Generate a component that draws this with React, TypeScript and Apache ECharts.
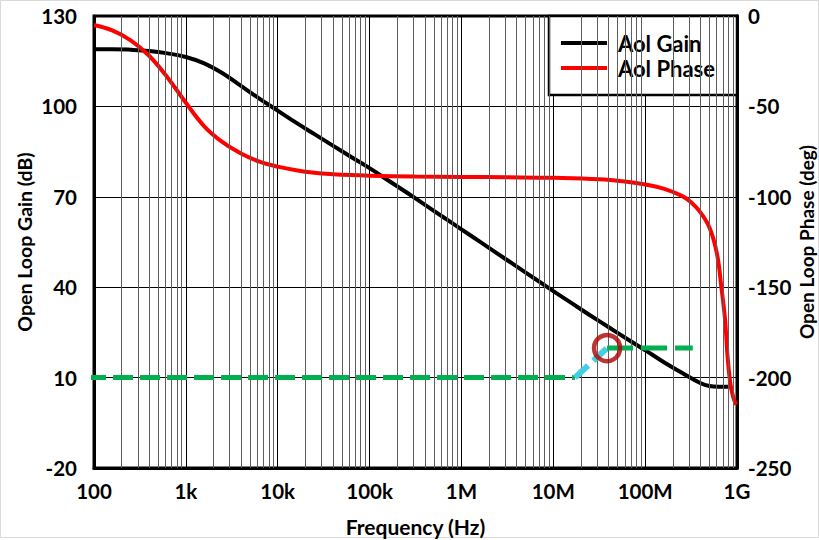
import React, { useEffect, useRef } from "react";
import * as echarts from "echarts";

// ---- data ----
const gainFreq = [100, 158, 251, 398, 631, 1000, 1585, 2512, 3981, 6310, 1e4, 15850, 25120, 39810, 63100, 1e5, 158500, 251200, 398100, 631000, 1e6, 1.585e6, 2.512e6, 3.981e6, 6.31e6, 1e7, 1.585e7, 2.512e7, 3.981e7, 6.31e7, 1e8, 1.585e8, 2.512e8, 3.981e8, 5.012e8, 6.31e8, 8.5e8];
const gainDb = [119, 119, 118.8, 118.4, 117.6, 116.4, 114.3, 111, 106.8, 102.6, 98.6, 94.6, 90.8, 87, 83.2, 79.5, 75.5, 71.5, 67.4, 63.3, 59.2, 55.1, 51.0, 46.9, 42.8, 38.7, 34.7, 30.7, 26.8, 22.9, 19.1, 15.2, 11.6, 8.2, 7.2, 7.0, 7.0];

const phaseFreq = [100, 158, 251, 398, 631, 1000, 1585, 2512, 3981, 6310, 1e4, 15850, 25120, 39810, 63100, 1e5, 316200, 1e6, 3.162e6, 1e7, 3.162e7, 6.31e7, 1e8, 1.585e8, 2.512e8, 3.162e8, 3.981e8, 5.012e8, 6.026e8, 6.761e8, 7.413e8, 7.943e8, 8.511e8, 9.12e8, 9.77e8];
const phaseDeg = [-5, -8, -13.5, -22, -34, -48, -61, -69.8, -76, -80.5, -83.3, -85.3, -86.7, -87.5, -88, -88.3, -88.8, -89, -89.2, -89.5, -90.3, -91.7, -93.2, -95.5, -99.5, -103, -108.5, -117, -131, -150, -168, -190, -204, -211, -215];

const greenLowFreq = [82, 1.72e7];
const greenLowDb = [10, 10];
const cyanFreq = [1.72e7, 3.85e7];
const cyanDb = [10, 19.8];
const greenHighFreq = [3.85e7, 3.3e8];
const greenHighDb = [19.8, 19.8];
const markerFreq = [3.85e7];
const markerDb = [19.8];

const xTickLabels = ["100", "1k", "10k", "100k", "1M", "10M", "100M", "1G"];
const decadeStarts = [100, 1e3, 1e4, 1e5, 1e6, 1e7, 1e8];
const minorMultipliers = [2, 3, 4, 5, 6, 7, 8, 9];

const zip = (xs: number[], ys: number[]) => xs.map((x, i) => [x, ys[i]]);

const FONT = "Lato";

export default function App() {
  const ref = useRef<HTMLDivElement>(null);
  useEffect(() => {
    if (!ref.current) return;
    const chart = echarts.init(ref.current, null, { renderer: "svg" });
    const minorLines: any[] = [];
    decadeStarts.forEach((d) => minorMultipliers.forEach((m) => minorLines.push({ xAxis: d * m })));

    chart.setOption({
      animation: false,
      backgroundColor: "#fff",
      textStyle: { fontFamily: FONT },
      graphic: [
        {
          type: "rect",
          shape: { x: 0.5, y: 0.5, width: 818, height: 537 },
          style: { fill: "none", stroke: "#d9d9d9", lineWidth: 1 },
          silent: true,
          z: -10,
        },
      ],
      grid: {
        left: 94,
        right: 82,
        top: 16,
        bottom: 72,
        show: true,
        borderColor: "#000",
        borderWidth: 3,
        containLabel: false,
        outerBoundsMode: "none",
      },
      legend: {
        data: ["Aol Gain", "Aol Phase"],
        orient: "vertical",
        right: 82,
        top: 16,
        padding: [16, 22, 16, 12],
        itemGap: 3,
        itemWidth: 46,
        itemHeight: 4,
        icon: "rect",
        backgroundColor: "#fff",
        borderColor: "#000",
        borderWidth: 2.5,
        borderRadius: 0,
        textStyle: {
          fontFamily: FONT,
          fontWeight: "bold",
          fontSize: 22,
          color: "#000",
          padding: [0, 0, 0, 6],
        },
      },
      xAxis: {
        type: "log",
        logBase: 10,
        min: 100,
        max: 1e9,
        splitNumber: 7,
        name: "Frequency (Hz)",
        nameLocation: "middle",
        nameGap: 48,
        nameTextStyle: { fontFamily: FONT, fontWeight: "bold", fontSize: 21, color: "#000" },
        axisLine: { show: true, onZero: false, lineStyle: { color: "#000", width: 3 } },
        axisTick: { show: false },
        axisLabel: {
          fontFamily: FONT,
          fontWeight: "bold",
          fontSize: 20.5,
          color: "#000",
          margin: 12,
          formatter: (v: number) => xTickLabels[Math.round(Math.log10(v)) - 2] ?? "",
        },
        splitLine: { show: true, lineStyle: { color: "#000", width: 1 } },
      },
      yAxis: [
        {
          type: "value",
          min: -20,
          max: 130,
          interval: 30,
          name: "Open Loop Gain (dB)",
          nameLocation: "middle",
          nameGap: 60,
          nameMoveOverlap: false,
          nameTextStyle: { fontFamily: FONT, fontWeight: "bold", fontSize: 19.5, color: "#000" },
          axisLine: { show: true, onZero: false, lineStyle: { color: "#000", width: 3 } },
          axisTick: { show: false },
          axisLabel: { fontFamily: FONT, fontWeight: "bold", fontSize: 20.5, color: "#000", margin: 17 },
          splitLine: { show: true, lineStyle: { color: "#000", width: 1 } },
        },
        {
          type: "value",
          min: -250,
          max: 0,
          interval: 50,
          position: "right",
          name: "Open Loop Phase (deg)",
          nameLocation: "middle",
          nameGap: 60,
          nameMoveOverlap: false,
          nameRotate: 90,
          nameTextStyle: { fontFamily: FONT, fontWeight: "bold", fontSize: 19, color: "#000" },
          axisLine: { show: true, onZero: false, lineStyle: { color: "#000", width: 3 } },
          axisTick: { show: false },
          axisLabel: { fontFamily: FONT, fontWeight: "bold", fontSize: 20.5, color: "#000", margin: 11 },
          splitLine: { show: false },
        },
      ],
      series: [
        {
          name: "minor-grid",
          type: "line",
          data: [],
          silent: true,
          z: 1,
          markLine: {
            silent: true,
            symbol: ["none", "none"],
            label: { show: false },
            lineStyle: { color: "#5e5e5e", width: 1, type: "solid" },
            emphasis: { disabled: true },
            data: minorLines,
          },
        },
        {
          name: "Aol Gain",
          type: "line",
          data: zip(gainFreq, gainDb),
          yAxisIndex: 0,
          smooth: 0.4,
          showSymbol: false,
          lineStyle: { color: "#000", width: 4 },
          itemStyle: { color: "#000" },
          z: 4,
        },
        {
          name: "Aol Phase",
          type: "line",
          data: zip(phaseFreq, phaseDeg),
          yAxisIndex: 1,
          smooth: 0.4,
          showSymbol: false,
          lineStyle: { color: "#ff0000", width: 4 },
          itemStyle: { color: "#ff0000" },
          z: 4,
        },
        {
          name: "low",
          type: "line",
          data: zip(greenLowFreq, greenLowDb),
          yAxisIndex: 0,
          showSymbol: false,
          clip: false,
          lineStyle: { color: "#00B050", width: 5, type: [20, 7] },
          z: 5,
        },
        {
          name: "rise",
          type: "line",
          data: zip(cyanFreq, cyanDb),
          yAxisIndex: 0,
          showSymbol: false,
          lineStyle: { color: "#45CFE6", width: 6, type: [18, 7] },
          z: 5,
        },
        {
          name: "high",
          type: "line",
          data: zip(greenHighFreq, greenHighDb),
          yAxisIndex: 0,
          showSymbol: false,
          lineStyle: { color: "#00B050", width: 5, type: [26, 8] },
          z: 5,
        },
        {
          name: "marker",
          type: "scatter",
          data: zip(markerFreq, markerDb),
          yAxisIndex: 0,
          symbol: "circle",
          symbolSize: 26,
          itemStyle: { color: "rgba(0,0,0,0)", borderColor: "#B00000", borderWidth: 4.5 },
          z: 6,
        },
      ],
    });
    return () => chart.dispose();
  }, []);
  return <div ref={ref} style={{ position: "fixed", left: 0, top: 0, width: 819, height: 540 }} />;
}
